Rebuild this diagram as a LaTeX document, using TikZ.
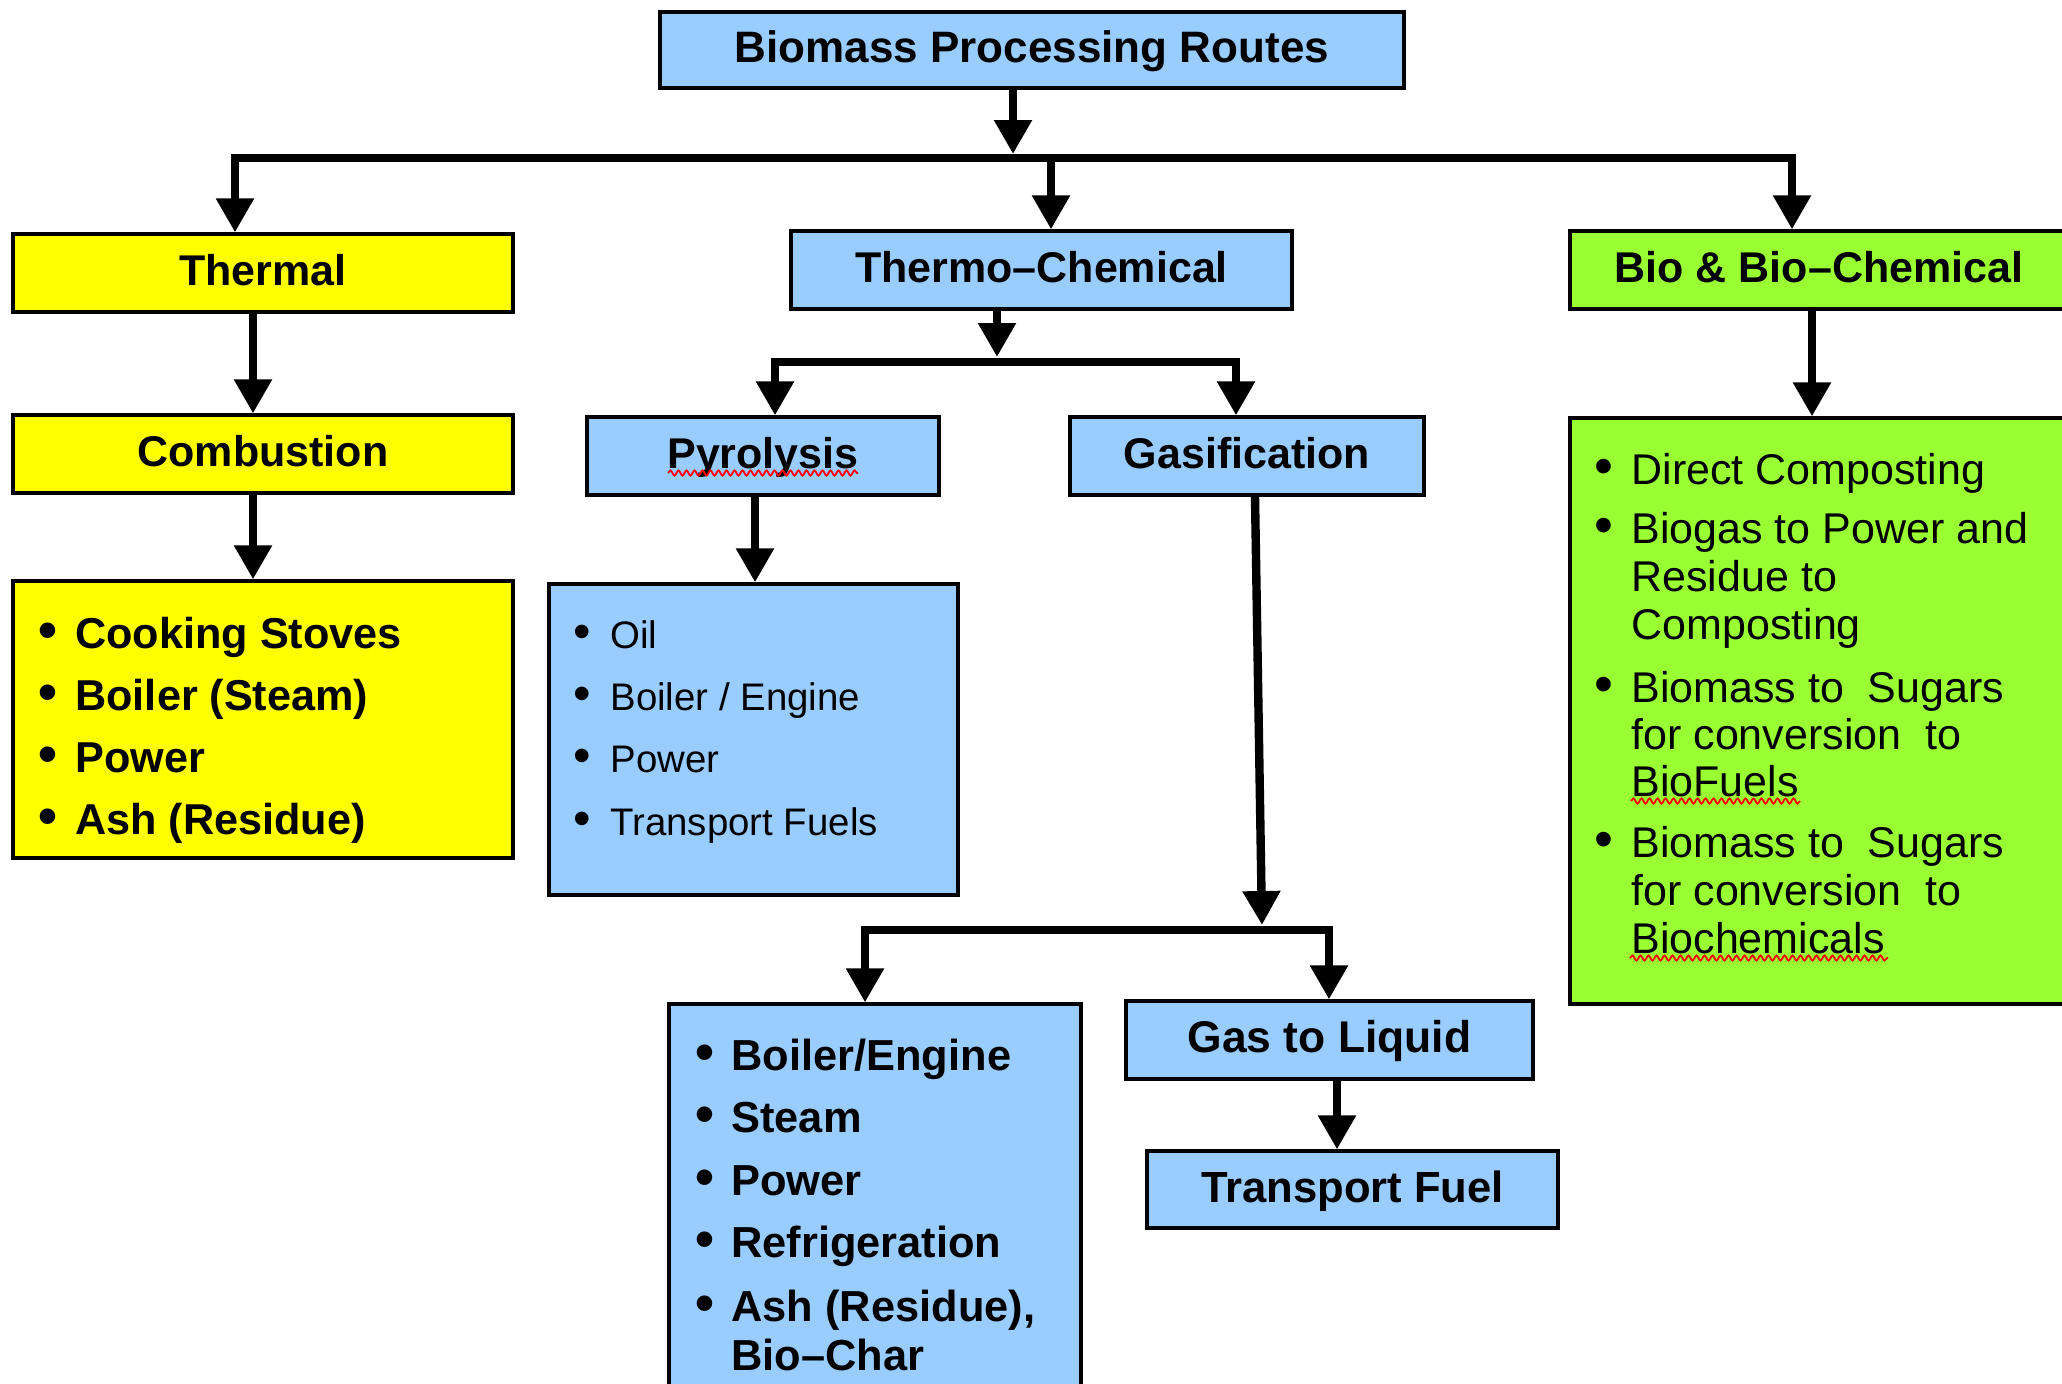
\documentclass[tikz,border=0pt]{standalone}
\usepackage{fontspec}
\setmainfont{Liberation Sans}
\usetikzlibrary{arrows.meta,decorations.pathmorphing}
\definecolor{boxblue}{HTML}{99CCFF}
\definecolor{boxyellow}{HTML}{FFFF00}
\definecolor{boxgreen}{HTML}{99FF33}
\begin{document}
\begin{tikzpicture}[x=0.5pt,y=-0.5pt,
  box/.style={draw=black, line width=1.6pt, inner sep=0pt,
    font=\bfseries\fontsize{21.5}{26}\selectfont,
    text height=12.6pt, text depth=0pt, align=center},
  arr/.style={line width=4.2pt, -{Triangle[width=18pt,length=17pt]}},
  arrtwo/.style={line width=4.2pt, line join=miter,
    {Triangle[width=18pt,length=17pt]}-{Triangle[width=18pt,length=17pt]}},
  tb/.style={anchor=base west, inner sep=0pt, font=\bfseries\fontsize{21.6}{26}\selectfont},
  tbb/.style={anchor=base, inner sep=0pt, font=\bfseries\fontsize{27}{30}\selectfont},
  pr/.style={anchor=base west, inner sep=0pt, font=\fontsize{19.2}{23}\selectfont},
  prb/.style={anchor=base, inner sep=0pt, font=\fontsize{25}{28}\selectfont},
  gb/.style={anchor=base west, inner sep=0pt, font=\bfseries\fontsize{21.7}{26}\selectfont},
  gbb/.style={anchor=base, inner sep=0pt, font=\bfseries\fontsize{27}{30}\selectfont},
  br/.style={anchor=base west, inner sep=0pt, font=\fontsize{21.5}{25}\selectfont},
  brb/.style={anchor=base, inner sep=0pt, font=\fontsize{27}{30}\selectfont},
  wavy/.style={draw=red, line width=0.9pt, decorate,
    decoration={snake, segment length=4pt, amplitude=1.3pt}}
]
\fill[white] (0,0) rectangle (2062,1383);
\useasboundingbox (0,0) rectangle (2062,1383);

% boxes
\node[box, fill=boxblue, minimum width=372pt, minimum height=38pt, font=\bfseries\fontsize{22}{26}\selectfont] (title) at (1032,50) {Biomass Processing Routes};
\node[box, fill=boxyellow, minimum width=250pt, minimum height=39pt] (thermal) at (263,273) {Thermal};
\node[box, fill=boxblue, minimum width=250.5pt, minimum height=39pt] (thermo) at (1041.5,270) {Thermo–Chemical};
\node[box, fill=boxgreen, minimum width=249pt, minimum height=39pt] (bio) at (1819,270) {Bio \& Bio–Chemical};
\node[box, fill=boxyellow, minimum width=250pt, minimum height=39pt] (comb) at (263,454) {Combustion};
\node[box, fill=boxblue, minimum width=176pt, minimum height=39pt] (pyro) at (763,456) {Pyrolysis};
\node[box, fill=boxblue, minimum width=177pt, minimum height=39pt] (gasif) at (1247,456) {Gasification};
\node[box, fill=boxyellow, minimum width=250pt, minimum height=138.5pt] (tlist) at (263,719.5) {};
\node[box, fill=boxblue, minimum width=204.5pt, minimum height=155.5pt] (plist) at (753.5,739.5) {};
\node[box, fill=boxgreen, minimum width=249pt, minimum height=293pt] (blist) at (1819,711) {};
\node[box, fill=boxblue, minimum width=206pt, minimum height=198pt] (glist) at (875,1202) {};
\node[box, fill=boxblue, minimum width=203.5pt, minimum height=39pt, font=\bfseries\fontsize{22.2}{26}\selectfont] (gtl) at (1329.5,1040) {Gas to Liquid};
\node[box, fill=boxblue, minimum width=205.5pt, minimum height=38.5pt, font=\bfseries\fontsize{21.8}{26}\selectfont] (tfuel) at (1352.5,1189.5) {Transport Fuel};

% thermal list
\node[tbb] (tb1) at (48,648) {•};
\node[tb] (tt1) at (75,648) {Cooking Stoves};
\node[tbb] (tb2) at (48,710) {•};
\node[tb] (tt2) at (75,710) {Boiler (Steam)};
\node[tbb] (tb3) at (48,772) {•};
\node[tb] (tt3) at (75,772) {Power};
\node[tbb] (tb4) at (48,834) {•};
\node[tb] (tt4) at (75,834) {Ash (Residue)};

% pyrolysis list
\node[prb] (pb1) at (582,648) {•};
\node[pr] (pt1) at (610,648) {Oil};
\node[prb] (pb2) at (582,710) {•};
\node[pr] (pt2) at (610,710) {Boiler / Engine};
\node[prb] (pb3) at (582,772) {•};
\node[pr] (pt3) at (610,772) {Power};
\node[prb] (pb4) at (582,835) {•};
\node[pr] (pt4) at (610,835) {Transport Fuels};

% gasification list
\node[gbb] (gb1) at (705,1070) {•};
\node[gb] (gt1) at (731,1070) {Boiler/Engine};
\node[gbb] (gb2) at (705,1132) {•};
\node[gb] (gt2) at (731,1132) {Steam};
\node[gbb] (gb3) at (705,1195) {•};
\node[gb] (gt3) at (731,1195) {Power};
\node[gbb] (gb4) at (705,1257) {•};
\node[gb] (gt4) at (731,1257) {Refrigeration};
\node[gbb] (gb5) at (705,1321) {•};
\node[gb] (gt5) at (731,1321) {Ash (Residue),};
\node[gb] (gt6) at (731,1370) {Bio–Char};

% bio list
\node[brb] (bb1) at (1604,484) {•};
\node[br] (bt1) at (1631,484) {Direct Composting};
\node[brb] (bb2) at (1604,543) {•};
\node[br] (bt2) at (1631,543) {Biogas to Power and};
\node[br] (bt3) at (1631,591) {Residue to};
\node[br] (bt4) at (1631,639) {Composting};
\node[brb] (bb3) at (1604,702) {•};
\node[br] (bt5) at (1631,702) {Biomass to\ \ Sugars};
\node[br] (bt6) at (1631,749) {for conversion\ \ to};
\node[br] (bt7) at (1631,796) {BioFuels};
\node[brb] (bb4) at (1604,857) {•};
\node[br] (bt8) at (1631,857) {Biomass to\ \ Sugars};
\node[br] (bt9) at (1631,905) {for conversion\ \ to};
\node[br] (bt10) at (1631,953) {Biochemicals};

% spell-check underlines
\path[wavy] (668,473) -- (858,473);
\path[wavy] (1631,801) -- (1800,801);
\path[wavy] (1630,958) -- (1888,958);

% connectors
\coordinate (j0) at (1013,154);
\coordinate (b1L) at (235,158);
\coordinate (b1M) at (1051,158);
\coordinate (b1R) at (1792,158);
\draw[arr] (title.south -| j0) -- (j0);
\draw[arrtwo] (b1L |- thermal.north) -- (b1L) -- (b1R) -- (b1R |- bio.north);
\draw[arr] (b1M) -- (b1M |- thermo.north);

\coordinate (c1) at (253,0);
\draw[arr] (thermal.south -| c1) -- (comb.north -| c1);
\draw[arr] (comb.south -| c1) -- (tlist.north -| c1);

\coordinate (j2) at (997,357);
\coordinate (b2L) at (775,362);
\coordinate (b2R) at (1236,362);
\draw[arr] (thermo.south -| j2) -- (j2);
\draw[arrtwo] (b2L |- pyro.north) -- (b2L) -- (b2R) -- (b2R |- gasif.north);

\coordinate (c2) at (755,0);
\draw[arr] (pyro.south -| c2) -- (plist.north -| c2);

\coordinate (c3) at (1255,0);
\coordinate (j3) at (1262,925);
\draw[arr] (gasif.south -| c3) -- (j3);
\coordinate (b3L) at (865,930);
\coordinate (b3R) at (1329,930);
\draw[arrtwo] (b3L |- glist.north) -- (b3L) -- (b3R) -- (b3R |- gtl.north);

\coordinate (c4) at (1337,0);
\draw[arr] (gtl.south -| c4) -- (tfuel.north -| c4);

\coordinate (c5) at (1812,0);
\draw[arr] (bio.south -| c5) -- (blist.north -| c5);
\end{tikzpicture}
\end{document}
